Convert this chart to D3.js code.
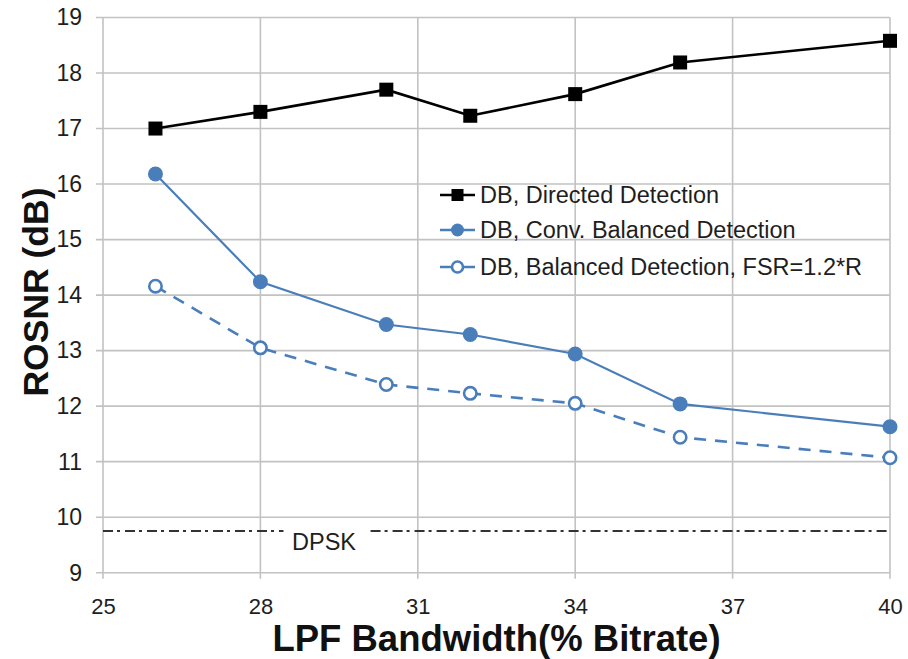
<!DOCTYPE html>
<html>
<head>
<meta charset="utf-8">
<script src="https://cdn.jsdelivr.net/npm/d3@7"></script>
<style>
  body { margin: 0; background: #fff; }
  svg { display: block; }
  text { font-family: "Liberation Sans", Arial, sans-serif; }
</style>
</head>
<body>
<svg id="chart" width="908" height="659"></svg>
<script>
// LPF bandwidth (% of bitrate) at each measurement
const bandwidth = [26, 28, 30.4, 32, 34, 36, 40];
// Required OSNR (dB) for each receiver
const directDetection = [17.0, 17.3, 17.7, 17.23, 17.62, 18.19, 18.58];
const convBalanced = [16.18, 14.24, 13.47, 13.29, 12.94, 12.04, 11.63];
const balancedFsr = [14.16, 13.05, 12.39, 12.23, 12.05, 11.44, 11.07];
const dpskLevel = 9.75;

const xTicks = [25, 28, 31, 34, 37, 40];
const yTicks = [9, 10, 11, 12, 13, 14, 15, 16, 17, 18, 19];

const seriesNames = [
  "DB, Directed Detection",
  "DB, Conv. Balanced Detection",
  "DB, Balanced Detection, FSR=1.2*R"
];

const blue = "#4a7ebb";
const textCol = "#1e1e1e";
const svg = d3.select("#chart");
const plotL = 103, plotR = 890, plotT = 17.5, plotB = 572.7;

const x = d3.scaleLinear().domain([25, 40]).range([plotL, plotR]);
const y = d3.scaleLinear().domain([9, 19]).range([plotB, plotT]);

// grid lines, extended a little past the plot like tick marks
const grid = svg.append("g").attr("stroke", "#c2c2c2").attr("stroke-width", 1.6);
grid.selectAll("line.v").data(xTicks).join("line").attr("class", "v")
  .attr("x1", d => x(d)).attr("x2", d => x(d))
  .attr("y1", plotT).attr("y2", plotB + 6);
grid.selectAll("line.h").data(yTicks).join("line").attr("class", "h")
  .attr("x1", plotL - 7).attr("x2", plotR)
  .attr("y1", d => y(d)).attr("y2", d => y(d));

// axes (labels only; lines come from the grid)
const xAxis = svg.append("g")
  .attr("transform", `translate(0,${plotB})`)
  .call(d3.axisBottom(x).tickValues(xTicks).tickSize(0).tickPadding(25.3));
const yAxis = svg.append("g")
  .attr("transform", `translate(${plotL - 7},0)`)
  .call(d3.axisLeft(y).tickValues(yTicks).tickSize(0).tickPadding(14));
[xAxis, yAxis].forEach(a => {
  a.select(".domain").remove();
  a.selectAll("text").attr("fill", textCol)
    .attr("font-family", "Liberation Sans, Arial, sans-serif");
});
xAxis.selectAll("text").attr("font-size", 22);
yAxis.selectAll("text").attr("font-size", 23);

// axis titles
svg.append("text")
  .attr("x", (plotL + plotR) / 2).attr("y", 651)
  .attr("text-anchor", "middle").attr("font-size", 36.5).attr("font-weight", "bold")
  .attr("fill", "#111")
  .text("LPF Bandwidth(% Bitrate)");
svg.append("text")
  .attr("transform", "translate(48,292) rotate(-90)")
  .attr("text-anchor", "middle").attr("font-size", 35.5).attr("font-weight", "bold")
  .attr("fill", "#111")
  .text("ROSNR (dB)");

// DPSK reference line with a gap for its label
const dpskGap = [x(28.44), x(30.1)];
svg.append("g").attr("stroke", "#333").attr("stroke-width", 2)
  .attr("stroke-dasharray", "10,4,3,5")
  .selectAll("line")
  .data([[x(25), dpskGap[0]], [dpskGap[1], x(40)]])
  .join("line")
  .attr("x1", d => d[0]).attr("x2", d => d[1])
  .attr("y1", y(dpskLevel)).attr("y2", y(dpskLevel));
svg.append("text")
  .attr("x", 292).attr("y", y(dpskLevel) + 19)
  .attr("font-size", 23.5).attr("fill", textCol)
  .text("DPSK");

const line = d3.line().x((d, i) => x(bandwidth[i])).y(d => y(d));

// direct detection: black squares
svg.append("path").datum(directDetection)
  .attr("d", line).attr("fill", "none").attr("stroke", "#000").attr("stroke-width", 2.6);
svg.append("g").selectAll("rect").data(directDetection).join("rect")
  .attr("x", (d, i) => x(bandwidth[i]) - 7).attr("y", d => y(d) - 7)
  .attr("width", 14).attr("height", 14).attr("fill", "#000");

// conventional balanced detection: solid blue, filled circles
svg.append("path").datum(convBalanced)
  .attr("d", line).attr("fill", "none").attr("stroke", blue).attr("stroke-width", 2.2);
svg.append("g").selectAll("circle").data(convBalanced).join("circle")
  .attr("cx", (d, i) => x(bandwidth[i])).attr("cy", d => y(d))
  .attr("r", 7.5).attr("fill", blue);

// balanced detection with FSR = 1.2R: dashed blue, open circles
svg.append("path").datum(balancedFsr)
  .attr("d", line).attr("fill", "none").attr("stroke", blue).attr("stroke-width", 2.6)
  .attr("stroke-dasharray", "12,9");
svg.append("g").selectAll("circle").data(balancedFsr).join("circle")
  .attr("cx", (d, i) => x(bandwidth[i])).attr("cy", d => y(d))
  .attr("r", 6.2).attr("fill", "#fff").attr("stroke", blue).attr("stroke-width", 2.6);

// legend
const legend = svg.append("g");
const legendRows = [195, 230, 267];
const lx0 = 440, lx1 = 475, lmid = 457.5;
seriesNames.forEach((name, i) => {
  const g = legend.append("g");
  const col = i === 0 ? "#000" : blue;
  g.append("line").attr("x1", lx0).attr("x2", lx1)
    .attr("y1", legendRows[i]).attr("y2", legendRows[i])
    .attr("stroke", col).attr("stroke-width", 2.6);
  if (i === 0) {
    g.append("rect").attr("x", lmid - 6).attr("y", legendRows[i] - 6)
      .attr("width", 12).attr("height", 12).attr("fill", "#000");
  } else if (i === 1) {
    g.append("circle").attr("cx", lmid).attr("cy", legendRows[i]).attr("r", 6.5).attr("fill", blue);
  } else {
    g.append("circle").attr("cx", lmid).attr("cy", legendRows[i]).attr("r", 5.5)
      .attr("fill", "#fff").attr("stroke", blue).attr("stroke-width", 2.6);
  }
  g.append("text").attr("x", 480).attr("y", legendRows[i]).attr("dy", "0.36em")
    .attr("font-size", 23.5).attr("fill", textCol).text(name);
});
</script>
</body>
</html>
